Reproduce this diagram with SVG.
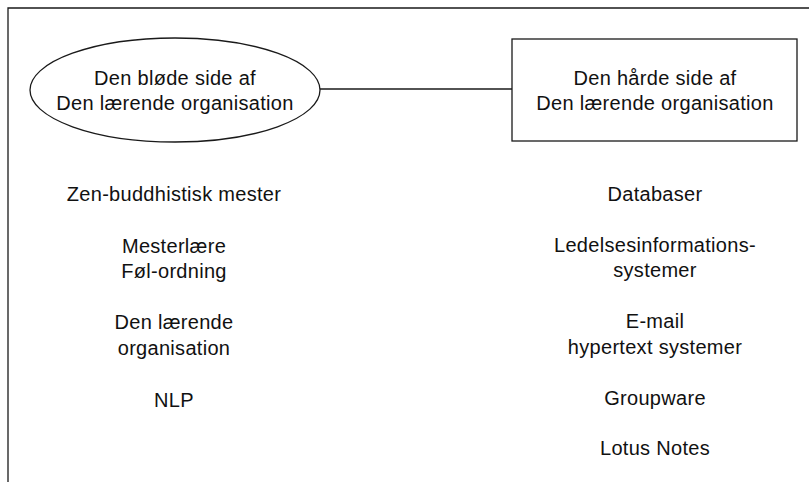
<svg xmlns="http://www.w3.org/2000/svg" width="809" height="482" viewBox="0 0 809 482">
  <style>
    .ln { fill: none; stroke: #1a1a1a; stroke-width: 1.3; }
    .shape { fill: #ffffff; stroke: #1a1a1a; stroke-width: 1.3; }
    text { font-family: "Liberation Sans", Arial, sans-serif; font-size: 20px; fill: #111111; text-anchor: middle; letter-spacing: 0.3px; }
  </style>
  <rect width="809" height="482" fill="#ffffff"/>

  <!-- open frame: top and left edges -->
  <path class="ln" d="M8,482 V8 H809"/>

  <g id="connectors">
    <line class="ln" x1="320" y1="89" x2="512" y2="89"/>
  </g>

  <g id="soft-side">
    <ellipse class="shape" cx="175" cy="90" rx="145" ry="52"/>
    <text x="175" y="85">Den bløde side af</text>
    <text x="175" y="110">Den lærende organisation</text>
  </g>

  <g id="hard-side">
    <rect class="shape" x="512" y="39" width="285" height="102"/>
    <text x="655" y="85">Den hårde side af</text>
    <text x="655" y="110">Den lærende organisation</text>
  </g>

  <g id="soft-items">
    <text x="174" y="201">Zen-buddhistisk mester</text>
    <text x="174" y="253">Mesterlære</text>
    <text x="174" y="278">Føl-ordning</text>
    <text x="174" y="329">Den lærende</text>
    <text x="174" y="355">organisation</text>
    <text x="174" y="407">NLP</text>
  </g>

  <g id="hard-items">
    <text x="655" y="201">Databaser</text>
    <text x="655" y="252">Ledelsesinformations-</text>
    <text x="655" y="277">systemer</text>
    <text x="655" y="328">E-mail</text>
    <text x="655" y="354">hypertext systemer</text>
    <text x="655" y="405">Groupware</text>
    <text x="655" y="455">Lotus Notes</text>
  </g>
</svg>
